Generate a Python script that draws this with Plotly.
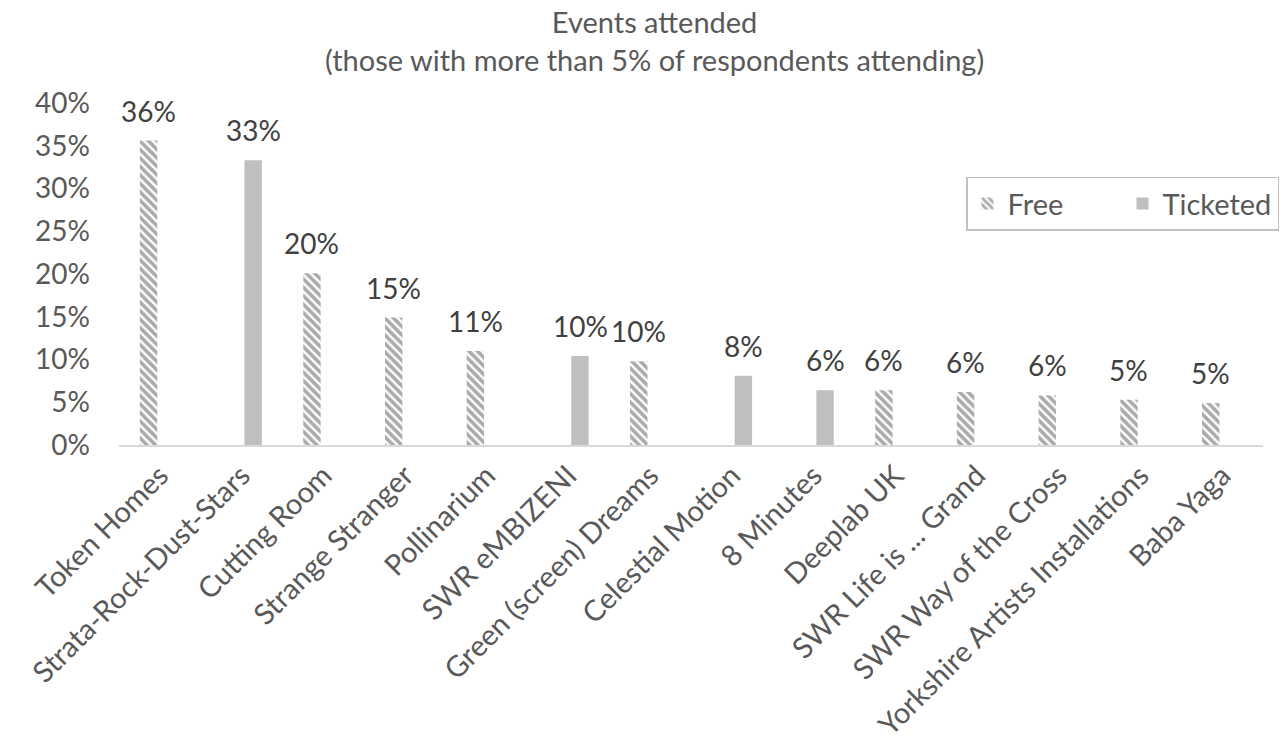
import plotly.graph_objects as go

categories = ["Token Homes", "Strata-Rock-Dust-Stars", "Cutting Room", "Strange Stranger",
              "Pollinarium", "SWR eMBIZENI", "Green (screen) Dreams", "Celestial Motion",
              "8 Minutes", "Deeplab UK", "SWR Life is ... Grand", "SWR Way of the Cross",
              "Yorkshire Artists Installations", "Baba Yaga"]
free_values = [0.356, None, 0.201, 0.149, 0.110, None, 0.098, None,
               None, 0.064, 0.062, 0.058, 0.053, 0.049]
ticketed_values = [None, 0.333, None, None, None, 0.104, None, 0.081,
                   0.064, None, None, None, None, None]
tick_vals = [0, 0.05, 0.10, 0.15, 0.20, 0.25, 0.30, 0.35, 0.40]
tick_text = ["0%", "5%", "10%", "15%", "20%", "25%", "30%", "35%", "40%"]
title_lines = ["Events attended", "(those with more than 5% of respondents attending)"]

FONT = "Lato"
TXT = "#595959"

fig = go.Figure()
fig.add_trace(go.Bar(
    name="Free", x=categories, y=free_values,
    marker=dict(color="white", line=dict(width=0),
                pattern=dict(shape="\\", fgcolor="#555555", bgcolor="white",
                             size=6, solidity=0.6)),
))
fig.add_trace(go.Bar(
    name="Ticketed", x=categories, y=ticketed_values,
    marker=dict(color="#bfbfbf", line=dict(width=0)),
))

annotations = []
for vals, shift in ((free_values, -11.5), (ticketed_values, 11.5)):
    for cat, v in zip(categories, vals):
        if v is not None:
            annotations.append(dict(x=cat, y=v, xref="x", yref="y", text=f"{round(v*100):d}%",
                                    showarrow=False, yanchor="bottom", xshift=shift, yshift=11,
                                    font=dict(family=FONT, size=28, color="#404040")))
annotations.append(dict(x=0.468, y=1.295, xref="paper", yref="paper", xanchor="center",
                        yanchor="top", showarrow=False, text="<br>".join(title_lines),
                        font=dict(family=FONT, size=29, color=TXT)))

fig.update_layout(
    width=1287, height=752,
    margin=dict(l=119, r=24, t=103, b=307, autoexpand=False),
    paper_bgcolor="white", plot_bgcolor="white",
    barmode="group", bargap=0.44, bargroupgap=0.24,
    font=dict(family=FONT, color=TXT),
    showlegend=True,
    legend=dict(orientation="h", x=1.014, xanchor="right", y=0.785, yanchor="top",
                bordercolor="#bfbfbf", borderwidth=1.5, bgcolor="white",
                font=dict(family=FONT, size=29, color=TXT),
                entrywidth=110, entrywidthmode="pixels",
                itemsizing="constant", traceorder="normal"),
    annotations=annotations,
)
fig.update_xaxes(showline=True, linecolor="#d9d9d9", linewidth=2, showgrid=False,
                 ticks="", tickangle=-45, tickfont=dict(family=FONT, size=29, color=TXT))
fig.update_yaxes(range=[0, 0.40], tickvals=tick_vals, ticktext=tick_text,
                 showgrid=False, zeroline=False, showline=False, ticks="",
                 ticklabelstandoff=28,
                 tickfont=dict(family=FONT, size=28, color=TXT))

fig.write_html("out.html")
